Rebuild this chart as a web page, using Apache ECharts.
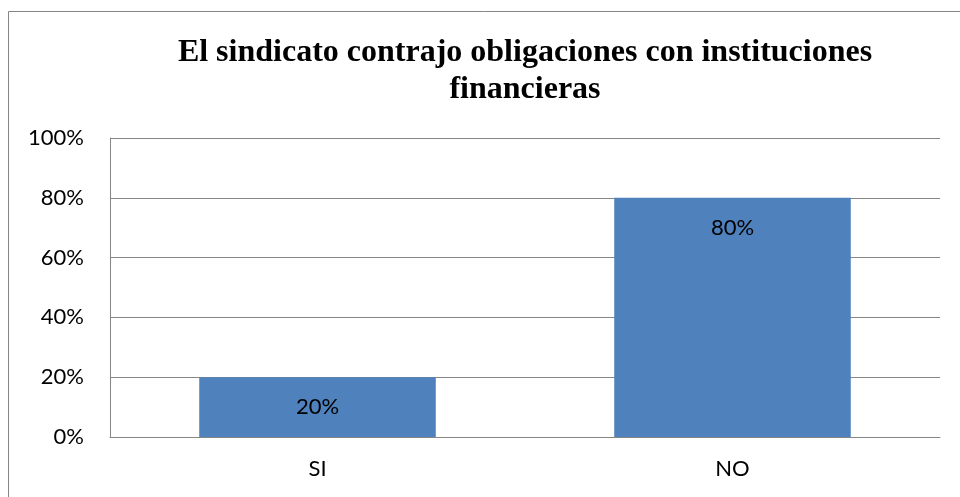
<!DOCTYPE html>
<html>
<head>
<meta charset="utf-8">
<style>
  html, body { margin: 0; padding: 0; background: #fff; }
  #chart { width: 960px; height: 497px; }
</style>
<script src="https://cdn.jsdelivr.net/npm/echarts@6/dist/echarts.min.js"></script>
</head>
<body>
<div id="chart"></div>
<script>
const categories = ['SI', 'NO']
const values = [20, 80]
const yTicks = [0, 20, 40, 60, 80, 100]

const chart = echarts.init(document.getElementById('chart'))
chart.setOption({
  backgroundColor: '#fff',
  animation: false,
  title: {
    text: 'El sindicato contrajo obligaciones con instituciones\nfinancieras',
    left: 520,
    top: 29,
    textAlign: 'center',
    textStyle: {
      fontFamily: 'Liberation Serif',
      fontWeight: 'bold',
      fontSize: 32,
      lineHeight: 37,
      color: '#000'
    }
  },
  graphic: [{
    type: 'rect',
    shape: { x: 8.5, y: 11.5, width: 1000, height: 600 },
    style: { fill: 'none', stroke: '#868686', lineWidth: 1 },
    silent: true
  }],
  grid: {
    left: 110,
    right: 20,
    top: 138,
    bottom: 60
  },
  xAxis: {
    type: 'category',
    data: categories,
    axisTick: { show: false },
    axisLine: { lineStyle: { color: '#868686', width: 1 } },
    axisLabel: {
      margin: 21,
      fontFamily: 'Lato',
      fontSize: 22,
      color: '#000'
    }
  },
  yAxis: {
    type: 'value',
    min: 0,
    max: 100,
    interval: 20,
    axisLine: { show: true, lineStyle: { color: '#868686', width: 1 } },
    axisTick: { show: false },
    splitLine: { lineStyle: { color: '#868686', width: 1 } },
    axisLabel: {
      margin: 26,
      fontFamily: 'Lato',
      fontSize: 22,
      color: '#000',
      formatter: v => yTicks.includes(v) ? v + '%' : ''
    }
  },
  series: [{
    type: 'bar',
    data: values,
    barWidth: '57%',
    itemStyle: { color: '#4F81BD' },
    label: {
      show: true,
      position: 'insideTop',
      distance: 19,
      formatter: p => p.value + '%',
      fontFamily: 'Lato',
      fontSize: 22,
      color: '#000'
    }
  }]
})
</script>
</body>
</html>
